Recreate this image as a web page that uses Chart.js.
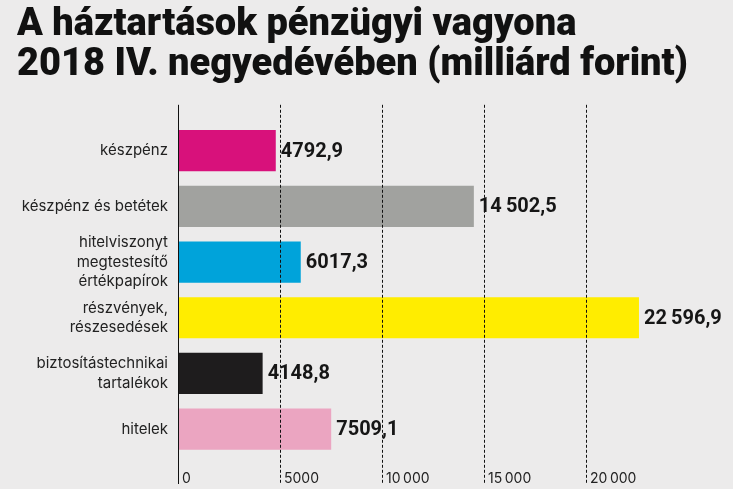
<!DOCTYPE html>
<html>
<head>
<meta charset="utf-8">
<script src="https://cdn.jsdelivr.net/npm/chart.js@4.4.1/dist/chart.umd.min.js"></script>
<style>
  html, body { margin: 0; padding: 0; background: #ecebeb; }
  #wrap { width: 733px; height: 489px; position: relative; }
</style>
</head>
<body>
<div id="wrap"><canvas id="chart"></canvas></div>
<script>
const categories = [
  ["készpénz"],
  ["készpénz és betétek"],
  ["hitelviszonyt", "megtestesítő", "értékpapírok"],
  ["részvények,", "részesedések"],
  ["biztosítástechnikai", "tartalékok"],
  ["hitelek"]
];
const values = [4792.9, 14502.5, 6017.3, 22596.9, 4148.8, 7509.1];
const barColors = ["#d8117b", "#a1a29f", "#00a3da", "#ffed00", "#1e1c1d", "#eba5c1"];
const tickValues = [0, 5000, 10000, 15000, 20000];
const titleLines = ["A háztartások pénzügyi vagyona", "2018 IV. negyedévében (milliárd forint)"];

// hungarian number style: comma decimal, thin space grouping from 10 000
function huNum(v, dec) {
  let s = v.toFixed(dec);
  let [int, frac] = s.split(".");
  if (int.length > 4) int = int.replace(/\B(?=(\d{3})+(?!\d))/g, "\u2009");
  return frac ? int + "," + frac : int;
}

const valueLabels = {
  id: "valueLabels",
  afterDatasetsDraw(chart) {
    const ctx = chart.ctx;
    const meta = chart.getDatasetMeta(0);
    ctx.save();
    ctx.font = "bold 20px Roboto";
    ctx.fillStyle = "#161616";
    ctx.textAlign = "left";
    ctx.textBaseline = "middle";
    meta.data.forEach((bar, i) => {
      ctx.fillText(huNum(values[i], 1), bar.x + 5, bar.y + 1);
    });
    ctx.restore();
  }
};

// vertical guide lines, longer than the plot area like in the print version
const guideLines = {
  id: "guideLines",
  afterDatasetsDraw(chart) {
    const ctx = chart.ctx;
    const x = chart.scales.x;
    const top = chart.chartArea.top - 18;
    const bottom = chart.chartArea.bottom + 27;
    ctx.save();
    tickValues.forEach(v => {
      const px = Math.round(x.getPixelForValue(v)) + 0.5;
      ctx.beginPath();
      ctx.strokeStyle = "#111";
      ctx.lineWidth = 1;
      ctx.setLineDash(v === 0 ? [] : [3, 2]);
      ctx.moveTo(px, top);
      ctx.lineTo(px, bottom);
      ctx.stroke();
    });
    ctx.restore();
  }
};

new Chart(document.getElementById("chart"), {
  type: "bar",
  data: {
    labels: categories,
    datasets: [{
      data: values,
      backgroundColor: barColors,
      borderWidth: 0,
      barPercentage: 0.74,
      categoryPercentage: 1
    }]
  },
  options: {
    indexAxis: "y",
    responsive: true,
    maintainAspectRatio: false,
    animation: false,
    layout: { padding: { left: 17, top: 6, right: 45, bottom: 2 } },
    plugins: {
      legend: { display: false },
      tooltip: { enabled: false },
      title: {
        display: true,
        text: titleLines,
        align: "start",
        color: "#111",
        font: { family: "Roboto", size: 38, weight: "900", lineHeight: 1.05 },
        padding: { top: 0, bottom: 37 }
      }
    },
    scales: {
      x: {
        min: 0,
        max: 25000,
        afterBuildTicks(scale) {
          scale.ticks = tickValues.map(v => ({ value: v }));
        },
        afterFit(scale) { scale.height = 30; },
        grid: { display: false, drawTicks: false },
        border: { display: false },
        ticks: {
          align: "start",
          labelOffset: 4,
          padding: 13,
          color: "#222",
          font: { family: "Inter", size: 14 },
          callback: v => huNum(v, 0)
        }
      },
      y: {
        grid: { display: false, drawTicks: false },
        border: { display: false },
        afterFit(scale) { scale.width = 161; },
        ticks: {
          autoSkip: false,
          padding: 10,
          color: "#222",
          font: { family: "Inter", size: 15, lineHeight: 1.3 }
        }
      }
    }
  },
  plugins: [valueLabels, guideLines]
});
</script>
</body>
</html>
